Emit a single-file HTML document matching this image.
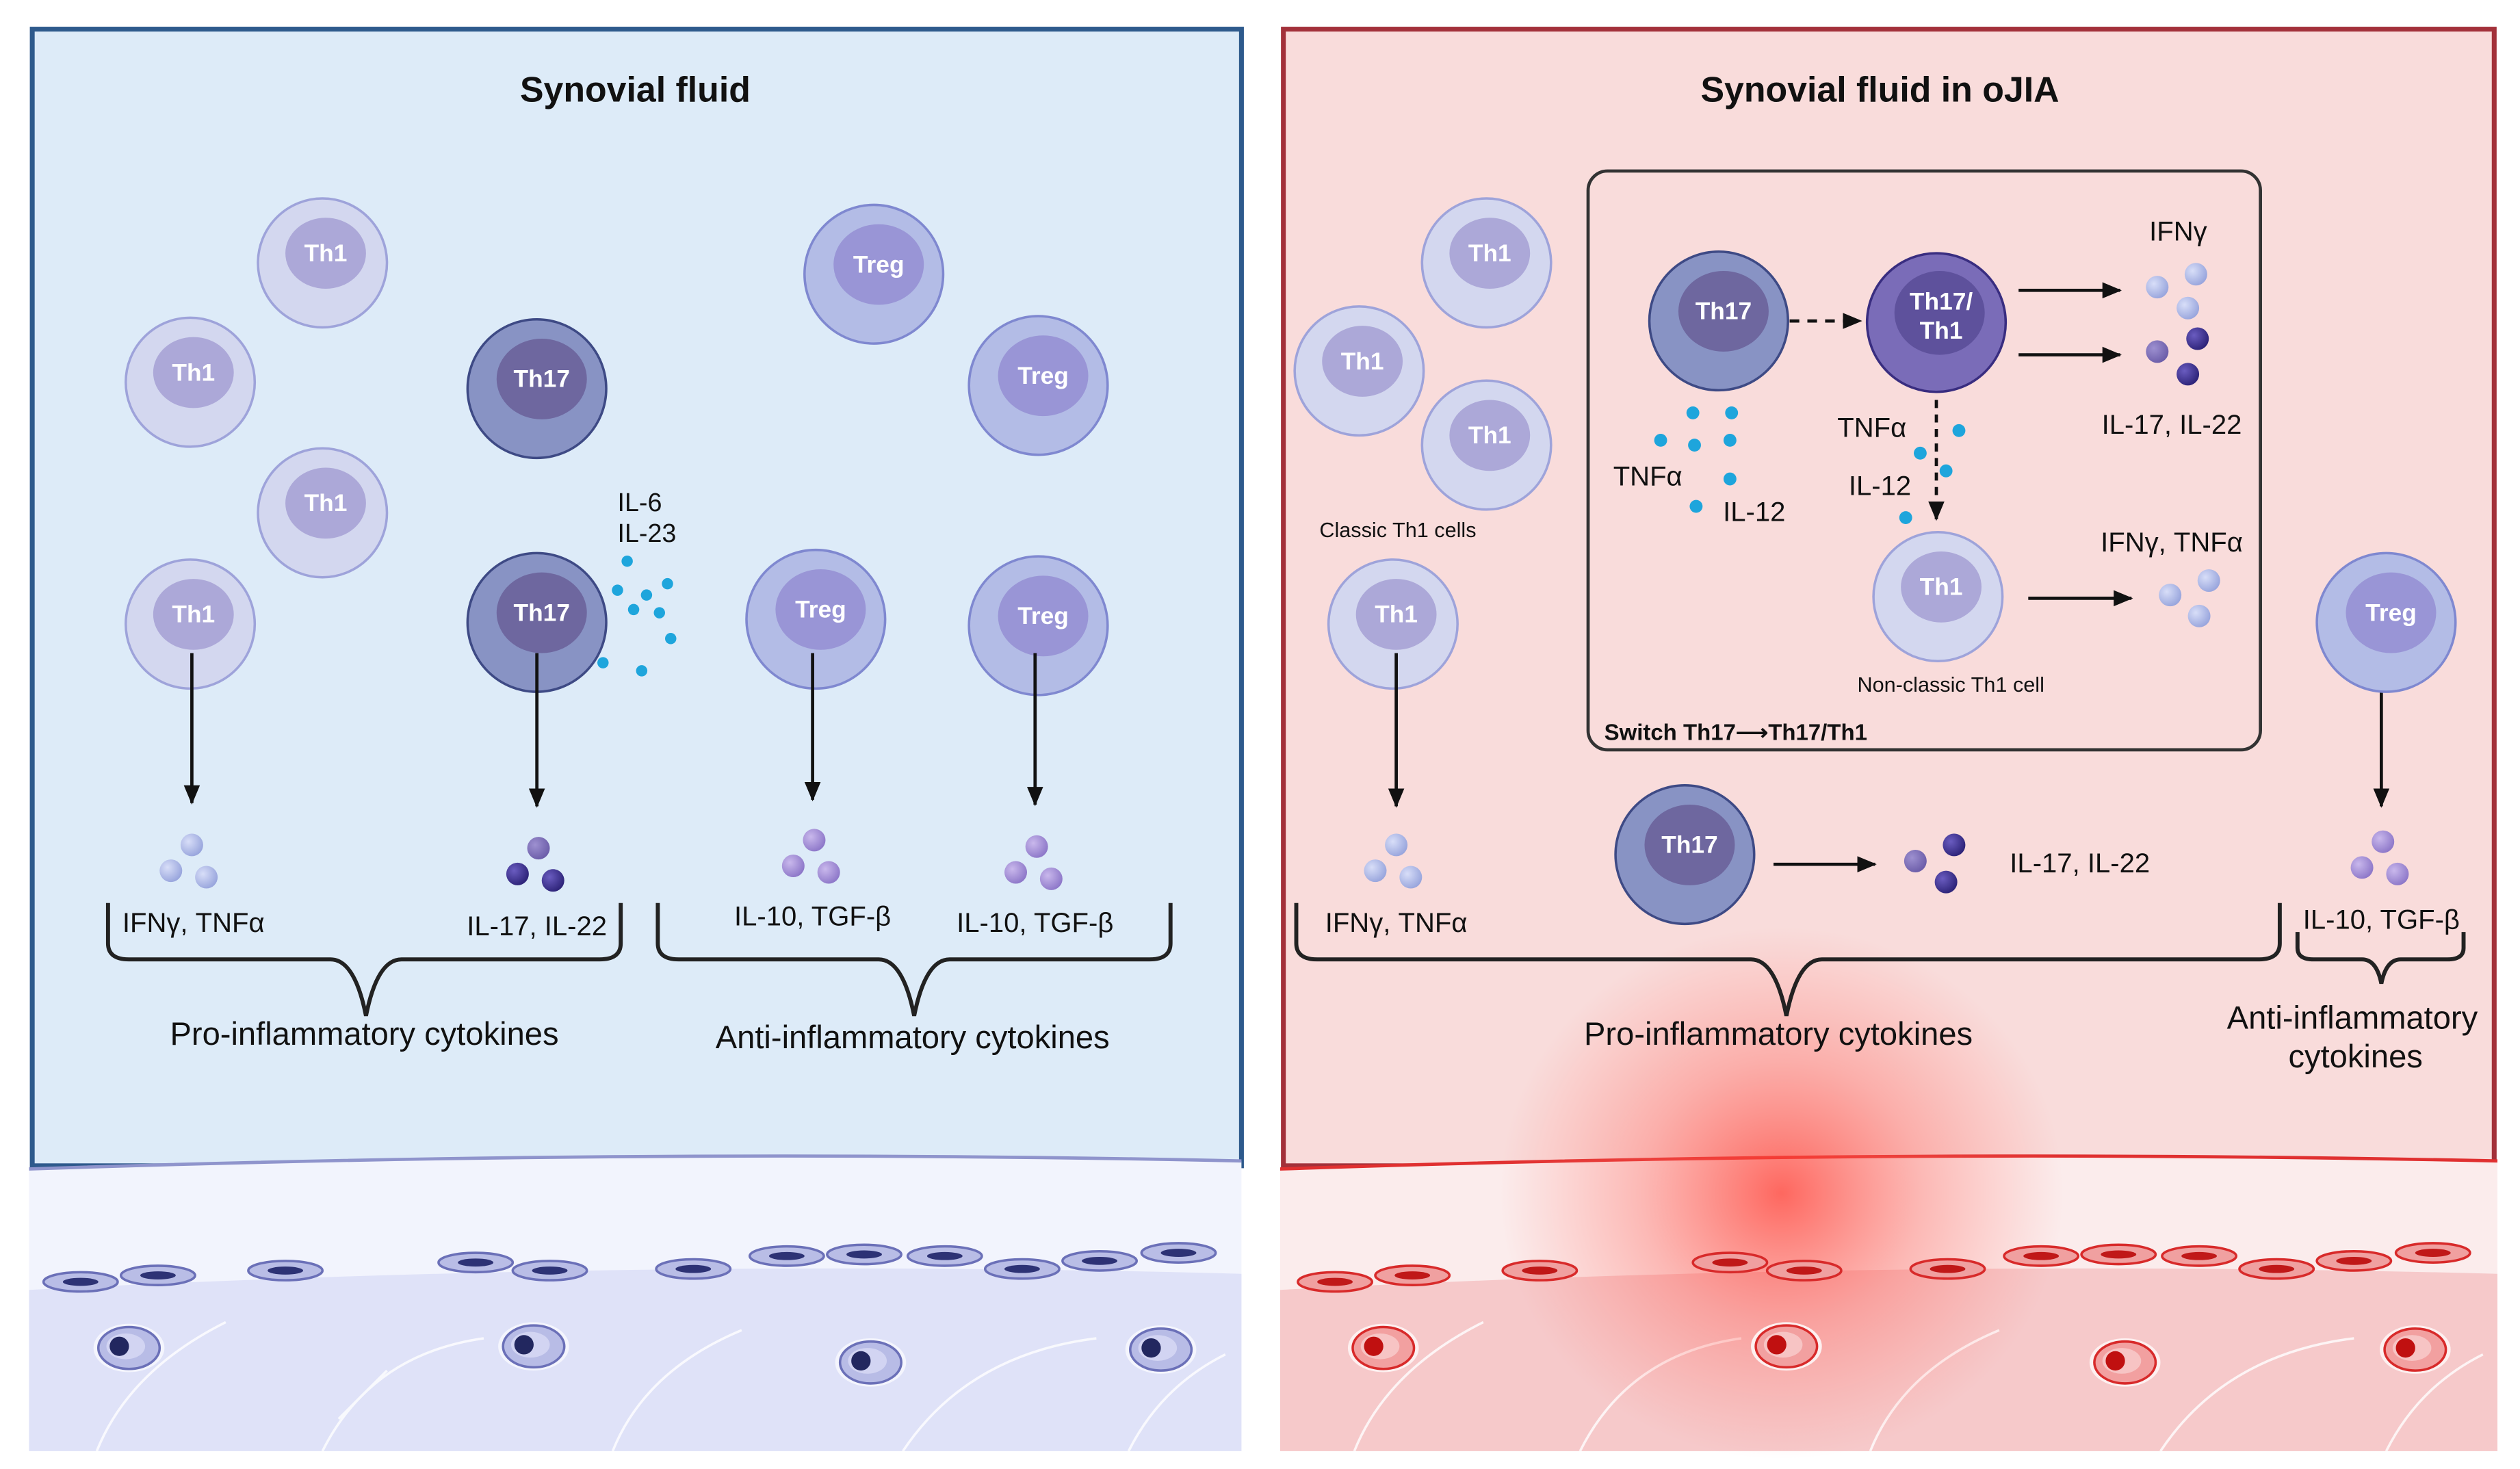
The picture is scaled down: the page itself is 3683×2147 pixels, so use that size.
<!DOCTYPE html>
<html><head><meta charset="utf-8"><style>
html,body{margin:0;padding:0;background:#fff;}
svg{display:block;}
text{font-family:"Liberation Sans",sans-serif;}
.ct{font-weight:bold;fill:#fff;font-size:15px;text-anchor:middle;}
.lb{font-size:17px;fill:#111;text-anchor:middle;}
.lg{font-size:20px;fill:#111;text-anchor:middle;}
</style></head><body>
<svg width="3683" height="2147" viewBox="0 0 1563 911" xmlns="http://www.w3.org/2000/svg">
<defs>
<marker id="ah" markerWidth="12" markerHeight="12" refX="11" refY="5" orient="auto" markerUnits="userSpaceOnUse" viewBox="0 0 12 10"><path d="M0,0 L12,5 L0,10z" fill="#111"/></marker>
<radialGradient id="glow" cx="0.5" cy="0.5" r="0.5"><stop offset="0" stop-color="#ff3b30" stop-opacity="0.75"/><stop offset="0.5" stop-color="#ff5a50" stop-opacity="0.35"/><stop offset="1" stop-color="#ff6b60" stop-opacity="0"/></radialGradient>
<radialGradient id="bl" cx="0.35" cy="0.35" r="0.7"><stop offset="0" stop-color="#d8def8"/><stop offset="1" stop-color="#97a4dc"/></radialGradient>
<radialGradient id="dk" cx="0.35" cy="0.35" r="0.7"><stop offset="0" stop-color="#6a5cc0"/><stop offset="1" stop-color="#2c2277"/></radialGradient>
<radialGradient id="md" cx="0.35" cy="0.35" r="0.7"><stop offset="0" stop-color="#9d90d0"/><stop offset="1" stop-color="#6b5ca8"/></radialGradient>
<radialGradient id="pu" cx="0.35" cy="0.35" r="0.7"><stop offset="0" stop-color="#c9b8ec"/><stop offset="1" stop-color="#8c76c8"/></radialGradient>
<g id="th1"><circle r="40" fill="#d3d7ef" stroke="#9ea3da" stroke-width="1.5"/><ellipse cx="2" cy="-6" rx="25" ry="22" fill="#aca8d8"/><text class="ct" x="2" y="-1">Th1</text></g>
<g id="th17"><circle r="43" fill="#8893c4" stroke="#3e4a85" stroke-width="1.5"/><ellipse cx="3" cy="-6" rx="28" ry="25" fill="#6e679f"/><text class="ct" x="3" y="-1">Th17</text></g>
<g id="treg"><circle r="43" fill="#b3bce6" stroke="#7f88d0" stroke-width="1.5"/><ellipse cx="3" cy="-6" rx="28" ry="25" fill="#9995d6"/><text class="ct" x="3" y="-1">Treg</text></g>
<g id="lt"><circle cx="1" cy="-14" r="7" fill="url(#bl)"/><circle cx="-12" cy="2" r="7" fill="url(#bl)"/><circle cx="10" cy="6" r="7" fill="url(#bl)"/></g>
<g id="pt"><circle cx="1" cy="-14" r="7" fill="url(#pu)"/><circle cx="-12" cy="2" r="7" fill="url(#pu)"/><circle cx="10" cy="6" r="7" fill="url(#pu)"/></g>
<g id="dt"><circle cx="1" cy="-14" r="7" fill="url(#md)"/><circle cx="-12" cy="2" r="7" fill="url(#dk)"/><circle cx="10" cy="6" r="7" fill="url(#dk)"/></g>
<g id="fc"><ellipse rx="23" ry="6" fill="#b9bde6" stroke="#6b70b8" stroke-width="1.5"/><ellipse rx="11" ry="2.5" fill="#2d3275"/></g>
<g id="rc"><ellipse rx="22" ry="15" fill="#f4f5fd"/><ellipse rx="19" ry="13" fill="#b8bce6" stroke="#6b70b8" stroke-width="1.5"/><ellipse cx="-2" cy="-1" rx="12" ry="8" fill="#d2d4f2"/><circle cx="-6" cy="-1" r="6" fill="#22275f"/></g>
<g id="fr"><ellipse rx="23" ry="6" fill="#f0a0a0" stroke="#d82a2a" stroke-width="1.5"/><ellipse rx="11" ry="2.5" fill="#c01818"/></g>
<g id="rr"><ellipse rx="22" ry="15" fill="#fdf0f0"/><ellipse rx="19" ry="13" fill="#f2a0a0" stroke="#d82a2a" stroke-width="1.5"/><ellipse cx="-2" cy="-1" rx="12" ry="8" fill="#f7c4c4"/><circle cx="-6" cy="-1" r="6" fill="#c01010"/></g>
</defs>
<rect width="1563" height="911" fill="#fff"/>
<!-- LEFT PANEL -->
<rect x="20" y="18" width="750" height="705" fill="#ddebf8" stroke="#2e5a8c" stroke-width="3"/>
<path d="M18,725 Q400,712 770,720 L770,800 L18,800z" fill="#f2f4fd"/>
<path d="M18,725 Q400,712 770,720" fill="none" stroke="#8f94cc" stroke-width="2"/>
<path d="M18,800 Q400,780 770,790 L770,900 L18,900z" fill="#dfe2f8"/>
<g stroke="#fff" stroke-width="1.5" fill="none" opacity="0.8">
<path d="M60,900 Q80,850 140,820"/><path d="M200,900 Q230,840 300,830"/><path d="M380,900 Q400,850 460,825"/><path d="M560,900 Q600,840 680,830"/><path d="M700,900 Q720,860 760,840"/><path d="M240,850 L210,880"/></g>
<use href="#fc" x="50" y="795"/><use href="#fc" x="98" y="791"/><use href="#fc" x="177" y="788"/>
<use href="#fc" x="295" y="783"/><use href="#fc" x="341" y="788"/><use href="#fc" x="430" y="787"/>
<use href="#fc" x="488" y="779"/><use href="#fc" x="536" y="778"/><use href="#fc" x="586" y="779"/>
<use href="#fc" x="634" y="787"/><use href="#fc" x="682" y="782"/><use href="#fc" x="731" y="777"/>
<use href="#rc" x="80" y="836"/><use href="#rc" x="331" y="835"/><use href="#rc" x="540" y="845"/><use href="#rc" x="720" y="837"/>
<text x="394" y="63" font-size="22" font-weight="bold" text-anchor="middle" fill="#111">Synovial fluid</text>
<use href="#th1" x="200" y="163"/><use href="#th1" x="118" y="237"/><use href="#th1" x="200" y="318"/><use href="#th1" x="118" y="387"/>
<use href="#th17" x="333" y="241"/><use href="#th17" x="333" y="386"/>
<use href="#treg" x="542" y="170"/><use href="#treg" x="644" y="239"/><use href="#treg" x="506" y="384"/><use href="#treg" x="644" y="388"/>
<text x="383" y="317" font-size="16" fill="#111">IL-6</text><text x="383" y="336" font-size="16" fill="#111">IL-23</text>
<g fill="#1ea5dc"><circle cx="389" cy="348" r="3.5"/><circle cx="383" cy="366" r="3.5"/><circle cx="401" cy="369" r="3.5"/><circle cx="414" cy="362" r="3.5"/><circle cx="393" cy="378" r="3.5"/><circle cx="409" cy="380" r="3.5"/><circle cx="416" cy="396" r="3.5"/><circle cx="374" cy="411" r="3.5"/><circle cx="398" cy="416" r="3.5"/></g>
<g stroke="#111" stroke-width="2" marker-end="url(#ah)"><line x1="119" y1="405" x2="119" y2="498"/><line x1="333" y1="405" x2="333" y2="500"/><line x1="504" y1="405" x2="504" y2="496"/><line x1="642" y1="405" x2="642" y2="499"/></g>
<use href="#lt" x="118" y="538"/><use href="#dt" x="333" y="540"/><use href="#pt" x="504" y="535"/><use href="#pt" x="642" y="539"/>
<text class="lb" x="120" y="578">IFNγ, TNFα</text><text class="lb" x="333" y="580">IL-17, IL-22</text><text class="lb" x="504" y="574">IL-10, TGF-β</text><text class="lb" x="642" y="578">IL-10, TGF-β</text>
<g fill="none" stroke="#222" stroke-width="2.5">
<path d="M67,560 L67,585 Q67,595 80,595 L205,595 Q220,595 227,630 Q234,595 249,595 L372,595 Q385,595 385,585 L385,560"/>
<path d="M408,560 L408,585 Q408,595 421,595 L545,595 Q560,595 567,630 Q574,595 589,595 L713,595 Q726,595 726,585 L726,560"/>
</g>
<text class="lg" x="226" y="648">Pro-inflammatory cytokines</text><text class="lg" x="566" y="650">Anti-inflammatory cytokines</text>
<!-- RIGHT PANEL -->
<rect x="796" y="18" width="751" height="705" fill="#f9dcdb" stroke="#a3313a" stroke-width="3"/>
<path d="M794,725 Q1170,712 1549,720 L1549,800 L794,800z" fill="#fbecec"/>
<path d="M794,725 Q1170,712 1549,720" fill="none" stroke="#e03030" stroke-width="2"/>
<path d="M794,800 Q1170,780 1549,790 L1549,900 L794,900z" fill="#f6c9ca"/>
<g stroke="#fff" stroke-width="1.5" fill="none" opacity="0.8">
<path d="M840,900 Q860,850 920,820"/><path d="M980,900 Q1010,840 1080,830"/><path d="M1160,900 Q1180,850 1240,825"/><path d="M1340,900 Q1380,840 1460,830"/><path d="M1480,900 Q1500,860 1540,840"/></g>
<ellipse cx="1105" cy="740" rx="175" ry="165" fill="url(#glow)"/>
<use href="#fr" x="828" y="795"/><use href="#fr" x="876" y="791"/><use href="#fr" x="955" y="788"/>
<use href="#fr" x="1073" y="783"/><use href="#fr" x="1119" y="788"/><use href="#fr" x="1208" y="787"/>
<use href="#fr" x="1266" y="779"/><use href="#fr" x="1314" y="778"/><use href="#fr" x="1364" y="779"/>
<use href="#fr" x="1412" y="787"/><use href="#fr" x="1460" y="782"/><use href="#fr" x="1509" y="777"/>
<use href="#rr" x="858" y="836"/><use href="#rr" x="1108" y="835"/><use href="#rr" x="1318" y="845"/><use href="#rr" x="1498" y="837"/>
<text x="1166" y="63" font-size="22" font-weight="bold" text-anchor="middle" fill="#111">Synovial fluid in oJIA</text>
<rect x="985" y="106" width="417" height="359" rx="12" fill="none" stroke="#333" stroke-width="2"/>
<use href="#th1" x="922" y="163"/><use href="#th1" x="843" y="230"/><use href="#th1" x="922" y="276"/>
<text x="867" y="333" font-size="13" text-anchor="middle" fill="#111">Classic Th1 cells</text>
<use href="#th1" x="864" y="387"/>
<use href="#th17" x="1066" y="199"/>
<g><circle cx="1201" cy="200" r="43" fill="#7a6cb8" stroke="#392d80" stroke-width="1.5"/><ellipse cx="1203" cy="194" rx="28" ry="26" fill="#5e519c"/><text class="ct" x="1204" y="192">Th17/</text><text class="ct" x="1204" y="210">Th1</text></g>
<line x1="1110" y1="199" x2="1154" y2="199" stroke="#111" stroke-width="2" stroke-dasharray="6,5" marker-end="url(#ah)"/>
<line x1="1201" y1="248" x2="1201" y2="322" stroke="#111" stroke-width="2" stroke-dasharray="5,4" marker-end="url(#ah)"/>
<g stroke="#111" stroke-width="2" marker-end="url(#ah)"><line x1="1252" y1="180" x2="1315" y2="180"/><line x1="1252" y1="220" x2="1315" y2="220"/><line x1="1258" y1="371" x2="1322" y2="371"/><line x1="1100" y1="536" x2="1163" y2="536"/><line x1="866" y1="405" x2="866" y2="500"/><line x1="1477" y1="405" x2="1477" y2="500"/></g>
<text class="lb" x="1351" y="149">IFNγ</text>
<circle cx="1338" cy="178" r="7" fill="url(#bl)"/><circle cx="1362" cy="170" r="7" fill="url(#bl)"/><circle cx="1357" cy="191" r="7" fill="url(#bl)"/>
<circle cx="1338" cy="218" r="7" fill="url(#md)"/><circle cx="1363" cy="210" r="7" fill="url(#dk)"/><circle cx="1357" cy="232" r="7" fill="url(#dk)"/>
<text class="lb" x="1347" y="269">IL-17, IL-22</text>
<g fill="#1ea5dc"><circle cx="1050" cy="256" r="4"/><circle cx="1074" cy="256" r="4"/><circle cx="1030" cy="273" r="4"/><circle cx="1051" cy="276" r="4"/><circle cx="1073" cy="273" r="4"/><circle cx="1073" cy="297" r="4"/><circle cx="1052" cy="314" r="4"/>
<circle cx="1215" cy="267" r="4"/><circle cx="1191" cy="281" r="4"/><circle cx="1207" cy="292" r="4"/><circle cx="1182" cy="321" r="4"/></g>
<text class="lb" x="1022" y="301">TNFα</text><text class="lb" x="1088" y="323">IL-12</text>
<text class="lb" x="1161" y="271">TNFα</text><text class="lb" x="1166" y="307">IL-12</text>
<use href="#th1" x="1202" y="370"/>
<text x="1210" y="429" font-size="13" text-anchor="middle" fill="#111">Non-classic Th1 cell</text>
<text class="lb" x="1347" y="342">IFNγ, TNFα</text>
<circle cx="1346" cy="369" r="7" fill="url(#bl)"/><circle cx="1370" cy="360" r="7" fill="url(#bl)"/><circle cx="1364" cy="382" r="7" fill="url(#bl)"/>
<text x="995" y="459" font-size="14" font-weight="bold" fill="#111">Switch Th17⟶Th17/Th1</text>
<use href="#th17" x="1045" y="530"/>
<circle cx="1188" cy="534" r="7" fill="url(#md)"/><circle cx="1212" cy="524" r="7" fill="url(#dk)"/><circle cx="1207" cy="547" r="7" fill="url(#dk)"/>
<text class="lb" x="1290" y="541">IL-17, IL-22</text>
<use href="#treg" x="1480" y="386"/>
<use href="#lt" x="865" y="538"/><use href="#pt" x="1477" y="536"/>
<text class="lb" x="866" y="578">IFNγ, TNFα</text><text class="lb" x="1477" y="576">IL-10, TGF-β</text>
<g fill="none" stroke="#222" stroke-width="2.5">
<path d="M804,560 L804,585 Q804,595 817,595 L1086,595 Q1101,595 1108,630 Q1115,595 1130,595 L1401,595 Q1414,595 1414,585 L1414,560"/>
<path d="M1425,578 L1425,588 Q1425,595 1435,595 L1465,595 Q1474,595 1477,610 Q1480,595 1489,595 L1518,595 Q1528,595 1528,588 L1528,578"/>
</g>
<text class="lg" x="1103" y="648">Pro-inflammatory cytokines</text>
<text class="lg" x="1459" y="638">Anti-inflammatory</text><text class="lg" x="1461" y="662">cytokines</text>
</svg>
</body></html>
